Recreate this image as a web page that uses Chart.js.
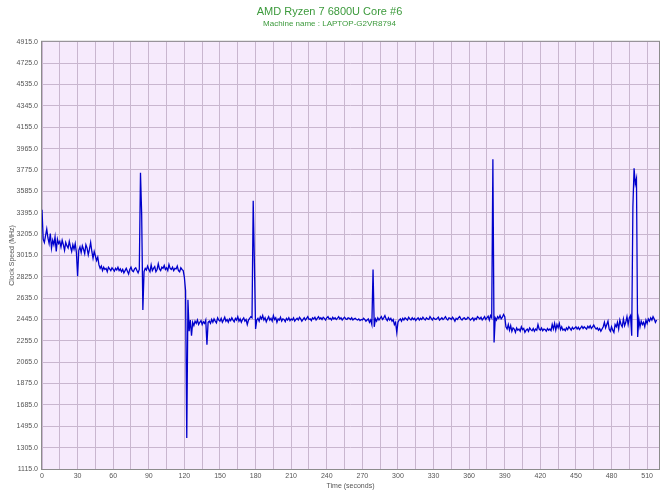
<!DOCTYPE html>
<html>
<head>
<meta charset="utf-8">
<script src="https://cdn.jsdelivr.net/npm/chart.js@4"></script>
<style>
  html, body { margin: 0; padding: 0; background: #fff; }
  #wrap { width: 670px; height: 502px; }
</style>
</head>
<body>
<div id="wrap"><canvas id="myChartClock" width="670" height="502"></canvas></div>
<script>
// clock speed of core #6, one sample per second (MHz)
var clockMHz = [
  3420, 3160, 3130, 3190, 3250, 3170, 3120, 3210, 3080, 3150,
  3110, 3180, 3050, 3160, 3120, 3140, 3090, 3150, 3110, 3060,
  3130, 3100, 3080, 3140, 3090, 3050, 3110, 3070, 3120, 3040,
  2830, 3060, 3090, 3040, 3100, 3070, 3030, 3110, 3080, 3020,
  3070, 3130, 3050, 2990, 3050, 3010, 2970, 3000, 2930, 2900,
  2920, 2880, 2910, 2890, 2900, 2870, 2910, 2895, 2880, 2905,
  2890, 2875, 2900, 2885, 2910, 2880, 2895, 2870, 2890, 2860,
  2880, 2900, 2875, 2850, 2890, 2910, 2880, 2870, 2895, 2905,
  2880, 2860, 2890, 3750, 3380, 2530, 2870, 2900, 2885, 2920,
  2890, 2870, 2930, 2880, 2900, 2915, 2870, 2890, 2940, 2895,
  2880, 2910, 2900, 2925, 2890, 2905, 2880, 2935, 2900, 2890,
  2910, 2880, 2900, 2895, 2920, 2880, 2870, 2905, 2890, 2880,
  2820, 2700, 1390, 2620, 2340, 2440, 2300, 2420, 2390, 2430,
  2410, 2440, 2400, 2420, 2435, 2400, 2425, 2410, 2440, 2220,
  2420, 2430, 2410, 2445, 2420, 2450, 2430, 2415, 2460, 2440,
  2430, 2455, 2420, 2440, 2465, 2430, 2445, 2420, 2450, 2435,
  2460, 2440, 2425, 2455, 2440, 2470, 2430, 2450, 2420, 2445,
  2460, 2430, 2445, 2400, 2440, 2455, 2470, 2460, 3500, 2950,
  2360, 2440, 2455, 2430, 2470, 2450, 2480, 2440, 2460, 2425,
  2450, 2470, 2440, 2455, 2430, 2480, 2445, 2460, 2420, 2450,
  2440, 2465, 2430, 2450, 2445, 2425, 2455, 2440, 2460, 2435,
  2450, 2440, 2460, 2430, 2445, 2455, 2440, 2465, 2450, 2430,
  2445, 2460, 2440, 2455, 2470, 2445, 2450, 2435, 2460, 2450,
  2465, 2440, 2455, 2470, 2450, 2460, 2445, 2465, 2455, 2440,
  2460, 2470, 2450, 2455, 2440, 2465, 2450, 2460, 2445, 2455,
  2470, 2450, 2460, 2440, 2455, 2465, 2450, 2445, 2460, 2455,
  2445, 2460, 2440, 2450, 2455, 2445, 2440, 2450, 2435, 2445,
  2440, 2455, 2445, 2430, 2440, 2450, 2420, 2440, 2400, 2890,
  2380, 2450, 2430, 2460, 2440, 2455, 2470, 2445, 2460, 2480,
  2450, 2435, 2460, 2440, 2455, 2430, 2445, 2400, 2420, 2330,
  2420, 2440, 2450, 2430, 2455, 2440, 2460, 2450, 2440, 2465,
  2450, 2440, 2460, 2445, 2455, 2435, 2450, 2460, 2440, 2455,
  2445, 2465, 2450, 2440, 2460, 2450, 2445, 2470, 2455, 2440,
  2460, 2450, 2445, 2455, 2465, 2440, 2450, 2460, 2445, 2455,
  2470, 2450, 2440, 2460, 2455, 2445, 2465, 2450, 2430, 2455,
  2445, 2460, 2470, 2450, 2440, 2455, 2460, 2445, 2450, 2465,
  2455, 2440, 2450, 2460, 2435, 2455, 2445, 2470, 2460, 2450,
  2465, 2440, 2455, 2470, 2445, 2460, 2475, 2440, 2480, 2460,
  3870, 2240, 2460, 2440, 2470, 2455, 2480, 2450, 2465, 2490,
  2470, 2380, 2360, 2400, 2350, 2390, 2340, 2370, 2360, 2330,
  2370, 2350, 2360, 2340, 2380, 2355, 2365, 2330, 2350, 2360,
  2340, 2370, 2355, 2345, 2365, 2340, 2360, 2350, 2400, 2360,
  2350, 2370, 2345, 2360, 2355, 2340, 2365, 2350, 2360, 2345,
  2400, 2360, 2410, 2350, 2400, 2370, 2410, 2355, 2380, 2350,
  2360, 2345, 2370, 2355, 2380, 2365, 2350, 2375, 2360, 2370,
  2380, 2360, 2375, 2355, 2370, 2385, 2365, 2380, 2370, 2360,
  2385, 2370, 2390, 2365, 2380, 2395, 2375, 2360, 2370, 2350,
  2365, 2340, 2360, 2380, 2420, 2370, 2400, 2430, 2360, 2340,
  2380, 2350, 2330, 2400, 2380, 2420, 2360, 2440, 2400, 2380,
  2450, 2390, 2420, 2470, 2400, 2460, 2480, 2300, 3450, 3790,
  3650, 3700, 2290, 2450, 2380, 2430, 2400, 2420, 2380, 2440,
  2410, 2450, 2430, 2460, 2440, 2470, 2450, 2420, 2440
];

var xTickLabels = [0, 30, 60, 90, 120, 150, 180, 210, 240, 270, 300, 330, 360, 390, 420, 450, 480, 510];
var yTickLabels = [1115, 1305, 1495, 1685, 1875, 2065, 2255, 2445, 2635, 2825, 3015,
                   3205, 3395, 3585, 3775, 3965, 4155, 4345, 4535, 4725, 4915];
var xMax = 520;

var points = clockMHz.map(function (v, i) { return { x: i, y: v }; });

// plot background + frame
var plotBg = {
  id: 'plotBg',
  beforeDraw: function (chart) {
    var a = chart.chartArea, c = chart.ctx;
    c.save();
    c.fillStyle = '#f6eafc';
    c.fillRect(a.left, a.top, a.right - a.left, a.bottom - a.top);
    c.restore();
  },
  afterDatasetsDraw: function (chart) {
    var a = chart.chartArea, c = chart.ctx;
    c.save();
    c.strokeStyle = '#8c8c8c';
    c.lineWidth = 1;
    c.strokeRect(a.left - 0.5, a.top - 0.5, a.right - a.left + 1, a.bottom - a.top + 1);
    c.restore();
  }
};

var ctx = document.getElementById('myChartClock').getContext('2d');
var myChart = new Chart(ctx, {
  type: 'line',
  data: {
    datasets: [{
      data: points,
      borderColor: '#0000cc',
      borderWidth: 1.3,
      pointRadius: 0,
      tension: 0,
      fill: false
    }]
  },
  options: {
    responsive: false,
    animation: false,
    layout: { padding: { left: 0, right: 11, top: 0, bottom: 0 } },
    plugins: {
      legend: { display: false },
      tooltip: { enabled: false },
      title: {
        display: true,
        text: 'AMD Ryzen 7 6800U Core #6',
        color: '#3c9a3c',
        font: { family: 'Liberation Sans', size: 11, weight: 'normal' },
        padding: { top: 5, bottom: 0 }
      },
      subtitle: {
        display: true,
        text: 'Machine name : LAPTOP-G2VR8794',
        color: '#3c9a3c',
        font: { family: 'Liberation Sans', size: 8 },
        padding: { top: 1, bottom: 13 }
      }
    },
    scales: {
      x: {
        type: 'linear',
        min: 0,
        max: xMax,
        afterBuildTicks: function (s) {
          var t = [];
          xTickLabels.forEach(function (v) {
            t.push({ value: v });
            if (v + 15 < xMax) t.push({ value: v + 15 });
          });
          s.ticks = t;
        },
        afterFit: function (s) { s.height = 33; },
        ticks: {
          autoSkip: false,
          maxRotation: 0,
          padding: 3,
          color: '#555',
          font: { family: 'Liberation Sans', size: 7 },
          callback: function (v) { return xTickLabels.indexOf(v) >= 0 ? String(v) : ''; }
        },
        grid: { color: '#c9b6cf', drawTicks: false },
        border: { display: false },
        title: {
          display: true,
          text: 'Time (seconds)',
          color: '#555',
          font: { family: 'Liberation Sans', size: 7 },
          padding: { top: 0, bottom: 12 }
        }
      },
      y: {
        min: 1115,
        max: 4915,
        afterBuildTicks: function (s) {
          s.ticks = yTickLabels.map(function (v) { return { value: v }; });
        },
        afterFit: function (s) { s.width = 42; },
        ticks: {
          autoSkip: false,
          padding: 4,
          color: '#555',
          font: { family: 'Liberation Sans', size: 7 },
          callback: function (v) { return v.toFixed(1); }
        },
        grid: { color: '#c9b6cf', drawTicks: false },
        border: { display: false },
        title: {
          display: true,
          text: 'Clock Speed (MHz)',
          color: '#555',
          font: { family: 'Liberation Sans', size: 7 },
          padding: { top: 8, bottom: 0 }
        }
      }
    }
  },
  plugins: [plotBg]
});
</script>
</body>
</html>
